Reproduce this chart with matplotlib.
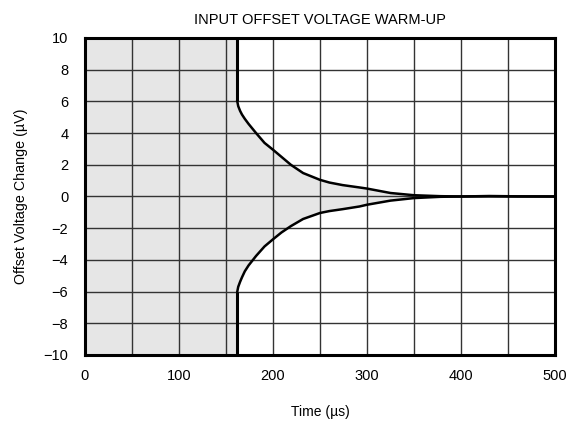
from matplotlib import pyplot as plt

plt.rcParams['font.family'] = ['Liberation Sans', 'DejaVu Sans']

# warm-up time where the curve starts (us)
t_start = 162
# envelope
t = [162, 163, 165, 167, 170, 174, 182, 191, 200, 209, 219, 232, 250, 260, 274, 292, 300, 325, 350, 378, 400, 430, 460, 500]
upper = [6.0, 5.7, 5.4, 5.17, 4.9, 4.58, 4.0, 3.38, 2.95, 2.5, 2.0, 1.48, 1.05, 0.88, 0.72, 0.57, 0.5, 0.22, 0.08, 0.02, 0.0, 0.03, 0.01, 0.0]
lower = [-6.0, -5.7, -5.38, -5.1, -4.72, -4.35, -3.75, -3.15, -2.7, -2.27, -1.87, -1.42, -1.04, -0.92, -0.8, -0.63, -0.52, -0.26, -0.1, -0.02, 0.0, 0.01, 0.0, 0.0]

x_ticks = [0, 100, 200, 300, 400, 500]
y_ticks = list(range(-10, 11, 2))

fig = plt.figure(figsize=(5.72, 4.26), dpi=100)
ax = fig.add_axes([0.1486, 0.1667, 0.8217, 0.7441])

shade = '#e6e6e6'
ax.axvspan(0, t_start + 1, color=shade, zorder=0, lw=0)
ax.fill_between(t, lower, upper, color=shade, zorder=0, lw=0)

# grid
for gx in range(50, 500, 50):
    ax.axvline(gx, color='#333333', lw=1.0, zorder=1)
for gy in range(-8, 10, 2):
    ax.axhline(gy, color='#333333', lw=1.0, zorder=1)

ax.plot([t_start, t_start], [10, upper[0]], color='black', lw=2.2, zorder=3, solid_capstyle='butt')
ax.plot([t_start, t_start], [-10, lower[0]], color='black', lw=2.2, zorder=3, solid_capstyle='butt')
ax.plot(t, upper, color='black', lw=1.8, zorder=3, solid_joinstyle='round')
ax.plot(t, lower, color='black', lw=1.8, zorder=3, solid_joinstyle='round')

ax.set_xlim(0, 500)
ax.set_ylim(-10, 10)
ax.set_xticks(x_ticks)
ax.set_yticks(y_ticks)
ax.tick_params(length=0, labelsize=10.5, pad=10)
ax.tick_params(axis='y', pad=12)
for s in ax.spines.values():
    s.set_linewidth(2.2)
    s.set_zorder(4)

ax.set_title('INPUT OFFSET VOLTAGE WARM-UP', fontsize=10.5, pad=10)
ax.set_xlabel('Time (µs)', fontsize=10, labelpad=16)
ax.set_ylabel('Offset Voltage Change (µV)', fontsize=10.3, labelpad=11)

fig.savefig('out.png', dpi=100)
